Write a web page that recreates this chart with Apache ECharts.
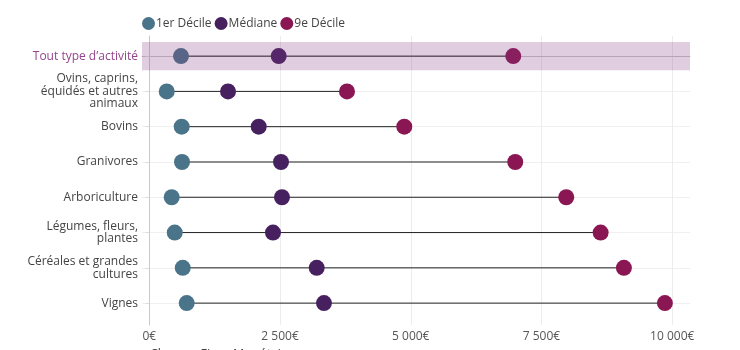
<!DOCTYPE html>
<html>
<head>
<meta charset="utf-8">
<script src="https://cdn.jsdelivr.net/npm/echarts@6/dist/echarts.min.js"></script>
<style>html,body{margin:0;padding:0;background:#fff}#c{width:740px;height:350px}</style>
</head>
<body>
<div id="c"></div>
<script>
const categories = ["Tout type d’activité", "Ovins, caprins,\néquidés et autres\nanimaux", "Bovins", "Granivores", "Arboriculture", "Légumes, fleurs,\nplantes", "Céréales et grandes\ncultures", "Vignes"];
const decile1 = [606, 333, 619, 625, 428, 486, 639, 715];
const median = [2474, 1505, 2092, 2518, 2537, 2365, 3201, 3340];
const decile9 = [6960, 3780, 4876, 6998, 7973, 8631, 9076, 9860];
const xTicks = [0, 2500, 5000, 7500, 10000];
const seriesNames = ["1er Décile", "Médiane", "9e Décile"];
const axisTitle = "Charges Fixes Monétaires";

const idx = categories.map((_, i) => i);
function fmt(v) {
  return String(v).replace(/\B(?=(\d{3})+(?!\d))/g, ' ') + '€';
}
const FONT = '"Open Sans", sans-serif';
const chart = echarts.init(document.getElementById('c'), null, {renderer: 'canvas'});
const option = {
  animation: false,
  textStyle: {fontFamily: FONT},
  title: {
    text: axisTitle, left: 145, top: 343,
    textStyle: {fontFamily: FONT, fontSize: 12.5, fontWeight: 'normal', color: '#444'}
  },
  legend: {
    data: seriesNames, left: 137, top: 12, icon: 'circle', itemWidth: 13, itemHeight: 13, itemGap: 3,
    textStyle: {fontFamily: FONT, fontSize: 12, color: '#444', padding: [0, 0, 0, -4]}
  },
  grid: {left: 142, right: 50, top: 36, bottom: 25, containLabel: false},
  xAxis: {
    type: 'value', min: -140, max: 10340,
    axisLine: {show: true, lineStyle: {color: '#c8c8c8'}},
    axisTick: {show: false, customValues: xTicks},
    axisLabel: {customValues: xTicks, formatter: v => fmt(v), color: '#555', fontSize: 12, margin: 6, fontFamily: FONT},
    splitLine: {show: true, lineStyle: {color: '#ececec'}}
  },
  yAxis: [{
    type: 'value', inverse: true, min: -0.57, max: 7.62,
    axisLine: {show: true, lineStyle: {color: '#c8c8c8'}},
    axisTick: {show: true, length: 4, customValues: idx, lineStyle: {color: '#ddd'}},
    axisLabel: {
      customValues: idx, fontFamily: FONT, fontSize: 12, color: '#444', lineHeight: 12.5, margin: 4,
      formatter: v => (v === 0 ? '{hl|' + categories[v] + '}' : categories[v]),
      rich: {hl: {color: '#94458f', fontSize: 12, fontFamily: FONT}}
    },
    splitLine: {show: true, lineStyle: {color: '#f0f0f0'}}
  }],
  series: [
    {
      type: 'custom', silent: true, z: 1,
      data: idx.map(i => [decile1[i], decile9[i], i]),
      encode: {x: [0, 1], y: 2},
      renderItem: (params, api) => {
        const p1 = api.coord([api.value(0), api.value(2)]);
        const p2 = api.coord([api.value(1), api.value(2)]);
        return {type: 'line', shape: {x1: p1[0], y1: p1[1], x2: p2[0], y2: p2[1]}, style: {stroke: '#222', lineWidth: 1}};
      }
    },
    {name: seriesNames[0], type: 'scatter', z: 3, symbolSize: 16, itemStyle: {color: '#4a7489', opacity: 1}, data: idx.map(i => [decile1[i], i])},
    {name: seriesNames[1], type: 'scatter', z: 3, symbolSize: 16, itemStyle: {color: '#46205f', opacity: 1}, data: idx.map(i => [median[i], i])},
    {name: seriesNames[2], type: 'scatter', z: 3, symbolSize: 16, itemStyle: {color: '#8a1753', opacity: 1}, data: idx.map(i => [decile9[i], i])},
    {
      type: 'scatter', data: [], z: 10, silent: true,
      markArea: {
        silent: true, z: 10,
        itemStyle: {color: 'rgba(131,55,131,0.25)'},
        data: [[{xAxis: 'min', yAxis: -0.4}, {xAxis: 'max', yAxis: 0.4}]]
      }
    }
  ]
};
chart.setOption(option);
</script>
</body>
</html>
